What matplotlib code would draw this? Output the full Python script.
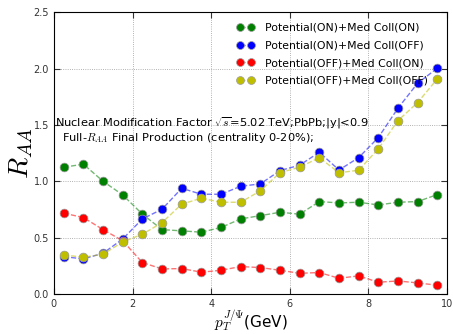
import numpy as np
import matplotlib
matplotlib.use("Agg")
import matplotlib.pyplot as plt
from matplotlib.colors import to_rgba

plt.rcParams["mathtext.fontset"] = "cm"

# pT bin centres (GeV)
pt = [0.25, 0.75, 1.25, 1.75, 2.25, 2.75, 3.25, 3.75, 4.25, 4.75,
      5.25, 5.75, 6.25, 6.75, 7.25, 7.75, 8.25, 8.75, 9.25, 9.75]

raa_on_on = [1.125, 1.152, 1.00, 0.879, 0.708, 0.571, 0.56, 0.548, 0.59, 0.666,
             0.695, 0.725, 0.708, 0.82, 0.808, 0.814, 0.79, 0.814, 0.82, 0.882]
raa_on_off = [0.331, 0.311, 0.361, 0.488, 0.666, 0.752, 0.938, 0.885, 0.885, 0.956,
              0.977, 1.095, 1.143, 1.258, 1.10, 1.21, 1.388, 1.649, 1.871, 2.004]
raa_off_on = [0.717, 0.678, 0.571, 0.472, 0.278, 0.222, 0.225, 0.193, 0.21, 0.243,
              0.234, 0.21, 0.183, 0.19, 0.139, 0.16, 0.104, 0.115, 0.098, 0.077]
raa_off_off = [0.346, 0.326, 0.352, 0.462, 0.53, 0.633, 0.797, 0.85, 0.814, 0.814,
               0.915, 1.077, 1.125, 1.21, 1.076, 1.098, 1.288, 1.539, 1.699, 1.909]

labels = ["Potential(ON)+Med Coll(ON)", "Potential(ON)+Med Coll(OFF)",
          "Potential(OFF)+Med Coll(ON)", "Potential(OFF)+Med Coll(OFF)"]
colors = [(0, 0.5, 0), (0, 0, 1), (1, 0, 0), (0.75, 0.75, 0)]

fig = plt.figure(figsize=(4.53, 3.34), dpi=100)
ax = fig.add_axes([0.119, 0.12, 0.868, 0.843])

for ys, lab, c in zip([raa_on_on, raa_on_off, raa_off_on, raa_off_off], labels, colors):
    ax.plot(pt, ys, linestyle="--", color=to_rgba(c, 0.55), lw=1.0,
            marker="o", markersize=6.3, markerfacecolor=c,
            markeredgecolor="0.6", markeredgewidth=0.5, label=lab)

ax.set_xlim(0, 10)
ax.set_ylim(0, 2.5)
ax.set_xticks([0, 2, 4, 6, 8, 10])
ax.set_yticks([0.0, 0.5, 1.0, 1.5, 2.0, 2.5])
ax.set_yticklabels(["0.0", "0.5", "1.0", "1.5", "2.0", "2.5"])
ax.tick_params(direction="in", top=True, right=True, labelsize=7, length=4,
               colors="0.2")
ax.grid(True, linestyle=":", color="0.6", lw=0.6)

ax.set_ylabel("$R_{AA}$", fontsize=20, labelpad=-1)
ax.set_xlabel(r"$p_T^{J/\Psi}$(GeV)", fontsize=11, labelpad=0.5)

ax.text(0.03, 1.52, "Nuclear Modification Factor $\\sqrt{s}$=5.02 TeV;PbPb;|y|<0.9",
        ha="left", va="center", fontsize=8.2)
ax.text(0.2, 1.385, "Full-$R_{AA}$ Final Production (centrality 0-20%);",
        ha="left", va="center", fontsize=8.2)

ax.legend(loc="upper right", bbox_to_anchor=(0.962, 0.978), frameon=False,
          fontsize=7.8, numpoints=2, handlelength=1.6, handletextpad=1.0,
          borderaxespad=0.0, labelspacing=0.7, markerscale=0.9)

fig.savefig("out.png", dpi=100)
